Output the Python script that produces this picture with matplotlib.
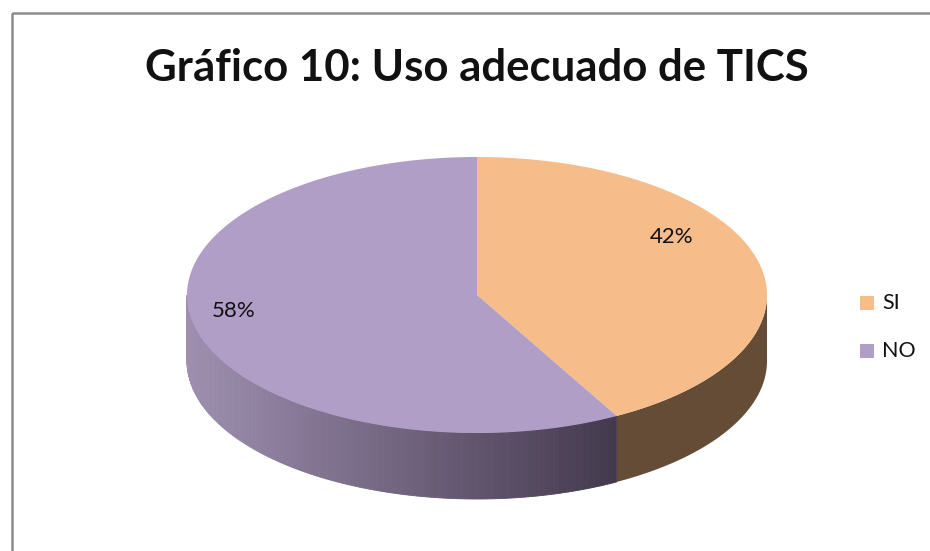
import numpy as np
import matplotlib.pyplot as plt
from matplotlib.patches import Polygon, Rectangle
from matplotlib.colors import to_rgb

# datos
categorias = ['SI', 'NO']
porcentajes = [42, 58]
colores_top = ['#F6BD8B', '#B19EC7']
colores_lado = ['#654C37', None]   # NO usa degradado
titulo = 'Gráfico 10: Uso adecuado de TICS'

plt.rcParams['font.family'] = ['Lato', 'DejaVu Sans']

fig = plt.figure(figsize=(9.3, 5.51), dpi=100)
ax = fig.add_axes([0, 0, 1, 1])
ax.set_xlim(0, 930)
ax.set_ylim(551, 0)
ax.axis('off')

# marco del grafico
ax.add_patch(Rectangle((11.5, 12.5), 940, 560, fill=False, ec='#8c8c8c', lw=1.8))

cx, cy, rx, ry, prof = 477, 295, 290, 138, 66

def punto(t, dy=0):
    return cx + rx * np.cos(t), cy - ry * np.sin(t) + dy

# angulos de los sectores: empieza arriba y va en sentido horario
total = sum(porcentajes)
inicio = np.pi / 2
sectores = []
for p in porcentajes:
    fin = inicio - 2 * np.pi * p / total
    sectores.append((fin, inicio))
    inicio = fin

# lados (solo la mitad frontal: sin(t) < 0)
izq = np.array(to_rgb('#9E8FB0'))
der = np.array(to_rgb('#43394D'))
for i, (a0, a1) in enumerate(sectores):
    for desp in (0, -2 * np.pi, 2 * np.pi):
        b0 = max(a0 + desp, -np.pi)
        b1 = min(a1 + desp, 0)
        if b1 <= b0:
            continue
        if colores_lado[i] is not None:
            t = np.linspace(b0, b1, 100)
            xs, ys = punto(t)
            pts = np.column_stack([np.r_[xs, xs[::-1]], np.r_[ys, ys[::-1] + prof]])
            ax.add_patch(Polygon(pts, closed=True, fc=colores_lado[i], ec='none'))
        else:
            n = 160
            ts = np.linspace(b0, b1, n + 1)
            x_ini, _ = punto(b0)
            x_fin, _ = punto(b1)
            for k in range(n):
                t = np.linspace(ts[k], ts[k + 1], 4)
                xs, ys = punto(t)
                f = (np.mean(xs) - x_ini) / (x_fin - x_ini)
                f = min(max(f, 0), 1)
                c = izq * (1 - f) + der * f
                pts = np.column_stack([np.r_[xs, xs[::-1]], np.r_[ys, ys[::-1] + prof]])
                ax.add_patch(Polygon(pts, closed=True, fc=c, ec=c, lw=0.6))

# caras superiores
for i, (a0, a1) in enumerate(sectores):
    t = np.linspace(a0, a1, 200)
    xs, ys = punto(t)
    pts = np.column_stack([np.r_[cx, xs], np.r_[cy, ys]])
    ax.add_patch(Polygon(pts, closed=True, fc=colores_top[i], ec='none'))

# etiquetas de porcentaje
pos_etq = [(672, 237), (234, 311)]
for p, (x, y) in zip(porcentajes, pos_etq):
    ax.text(x, y, f'{p}%', fontsize=16, ha='center', va='center', color='#111111')

# leyenda
for i, cat in enumerate(categorias):
    y = 303 + i * 48
    ax.add_patch(Rectangle((860, y - 7), 14, 14, fc=colores_top[i], ec='none'))
    ax.text(882, y, cat, fontsize=15.5, ha='left', va='center', color='#111111')

ax.text(477, 68, titulo, fontsize=31.5, fontweight='bold', ha='center', va='center', color='#111111')

fig.savefig('out.png', dpi=100)
